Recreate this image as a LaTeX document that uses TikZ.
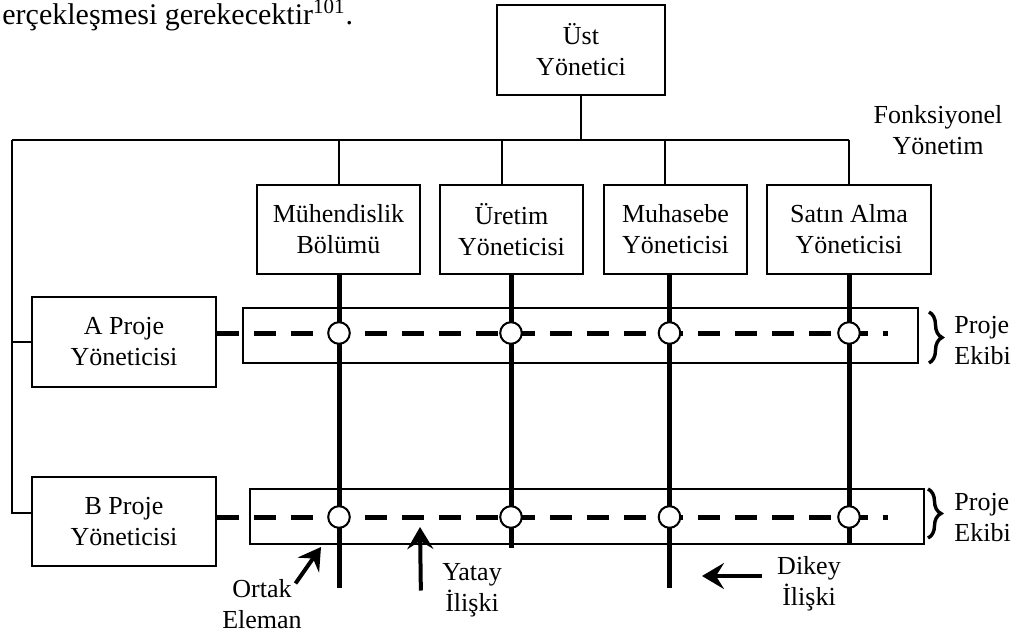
\documentclass[tikz,border=0pt]{standalone}
\usepackage{fontspec}
\setmainfont{Liberation Serif}
\usetikzlibrary{arrows.meta,decorations.pathreplacing}

\newcommand{\yazi}{\fontsize{13pt}{15.5pt}\selectfont}

\tikzset{
  kutu/.style={draw,line width=1pt,align=center,inner sep=0pt,font=\yazi},
  ekip/.style={draw,line width=1pt,minimum height=27.5pt,inner sep=0pt},
  etiket/.style={align=center,inner sep=0pt,font=\yazi},
  ince/.style={line width=1pt},
  dikey/.style={line width=2.5pt},
  yatay/.style={line width=2.5pt,dash pattern=on 11pt off 7.5pt},
  kesisim/.style={circle,draw,fill=white,line width=1pt,minimum size=10.8pt,inner sep=0pt},
  ayrac/.style={decorate,decoration={brace,amplitude=6.5pt},line width=1.7pt},
  ok/.style={-{Stealth[length=11pt,width=13pt,inset=4pt]},line width=2pt}
}

\begin{document}
\begin{tikzpicture}[x=0.5pt,y=-0.5pt]
\useasboundingbox (0,0) rectangle (1019,634);

\node[anchor=base west,inner sep=0pt,font=\fontsize{15pt}{18pt}\selectfont] (metin) at (2,24) {erçekleşmesi gerekecektir\textsuperscript{101}.};

% kutular
\node[kutu,minimum width=84pt,minimum height=45pt] (ust) at (581,50) {Üst\\Yönetici};
\node[kutu,minimum width=81.5pt,minimum height=44.5pt] (muh) at (338.5,229.5) {Mühendislik\\Bölümü};
\node[kutu,minimum width=71.5pt,minimum height=44.5pt] (ure) at (511.5,229.5) {Üretim\\Yöneticisi};
\node[kutu,minimum width=71.5pt,minimum height=44.5pt] (muhs) at (675.5,229.5) {Muhasebe\\Yöneticisi};
\node[kutu,minimum width=82pt,minimum height=44.5pt] (satin) at (849,229.5) {Satın Alma\\Yöneticisi};
\node[kutu,minimum width=92pt,minimum height=45pt] (aproje) at (124,342) {A Proje\\Yöneticisi};
\node[kutu,minimum width=92pt,minimum height=44.5pt] (bproje) at (124,521.5) {B Proje\\Yöneticisi};

\node[ekip,minimum width=337.5pt] (ekipA) at (580.5,335.5) {};
\node[ekip,minimum width=337pt] (ekipB) at (587,516.5) {};

\coordinate (sol) at (12,140);
\coordinate (aSon) at (888,333);
\coordinate (bSon) at (888,517);
\coordinate (d1) at (339,588);
\coordinate (d2) at (511,548);
\coordinate (d3) at (669.5,588);
\coordinate (d4) at (849,544);

% ince baglantilar
\draw[ince] (ust.south) -- (ust.south |- sol);
\draw[ince] (sol) -- (satin.north |- sol);
\draw[ince] (muh.north) -- (muh.north |- sol);
\draw[ince] ([xshift=-4.75pt]ure.north) coordinate (u) -- (u |- sol);
\draw[ince] ([xshift=-5.25pt]muhs.north) coordinate (m) -- (m |- sol);
\draw[ince] (satin.north) -- (satin.north |- sol);
\draw[ince] (sol) |- ([yshift=4.25pt]bproje.west);
\draw[ince] (sol |- aproje.west) -- (aproje.west);

% yatay ve dikey iliskiler
\draw[yatay] ([yshift=4.5pt]aproje.east) -- (aSon);
\draw[yatay] ([yshift=2.25pt]bproje.east) -- (bSon);
\foreach \i in {1,...,4}
  \draw[dikey] (d\i |- muh.south) -- (d\i);
\foreach \i in {1,...,4} {
  \node[kesisim] (kA\i) at (d\i |- aSon) {};
  \node[kesisim] (kB\i) at (d\i |- bSon) {};
}

% proje ekibi
\draw[ayrac] ([xshift=5pt,yshift=-2.5pt]ekipA.north east) -- ([xshift=5pt,yshift=0.5pt]ekipA.south east);
\draw[ayrac] ([xshift=1.5pt,yshift=-0.5pt]ekipB.north east) -- ([xshift=1.5pt,yshift=3.5pt]ekipB.south east);
\node[etiket,align=left,anchor=west] (ekibiA) at (954,340.5) {Proje\\Ekibi};
\node[etiket,align=left,anchor=west] (ekibiB) at (954,517.5) {Proje\\Ekibi};
\node[etiket] (fonk) at (938,130) {Fonksiyonel\\Yönetim};

% aciklamalar
\node[etiket] (ortak) at (262,604.5) {Ortak\\Eleman};
\node[etiket] (yatayEt) at (472,590.5) {Yatay\\İlişki};
\node[etiket] (dikeyEt) at (809,584) {Dikey\\İlişki};
\coordinate (ortakUc) at (321,547);
\coordinate (yatayUc) at (420,527);
\coordinate (dikeyUc) at (702,576);
\draw[ok] ([xshift=-3.3pt,yshift=-2pt]ortak.north east) -- (ortakUc);
\draw[ok] ([xshift=-10.5pt]yatayEt.west) -- (yatayUc);
\draw[ok] ([xshift=-7.5pt,yshift=4pt]dikeyEt.west) -- (dikeyUc);
\end{tikzpicture}
\end{document}
